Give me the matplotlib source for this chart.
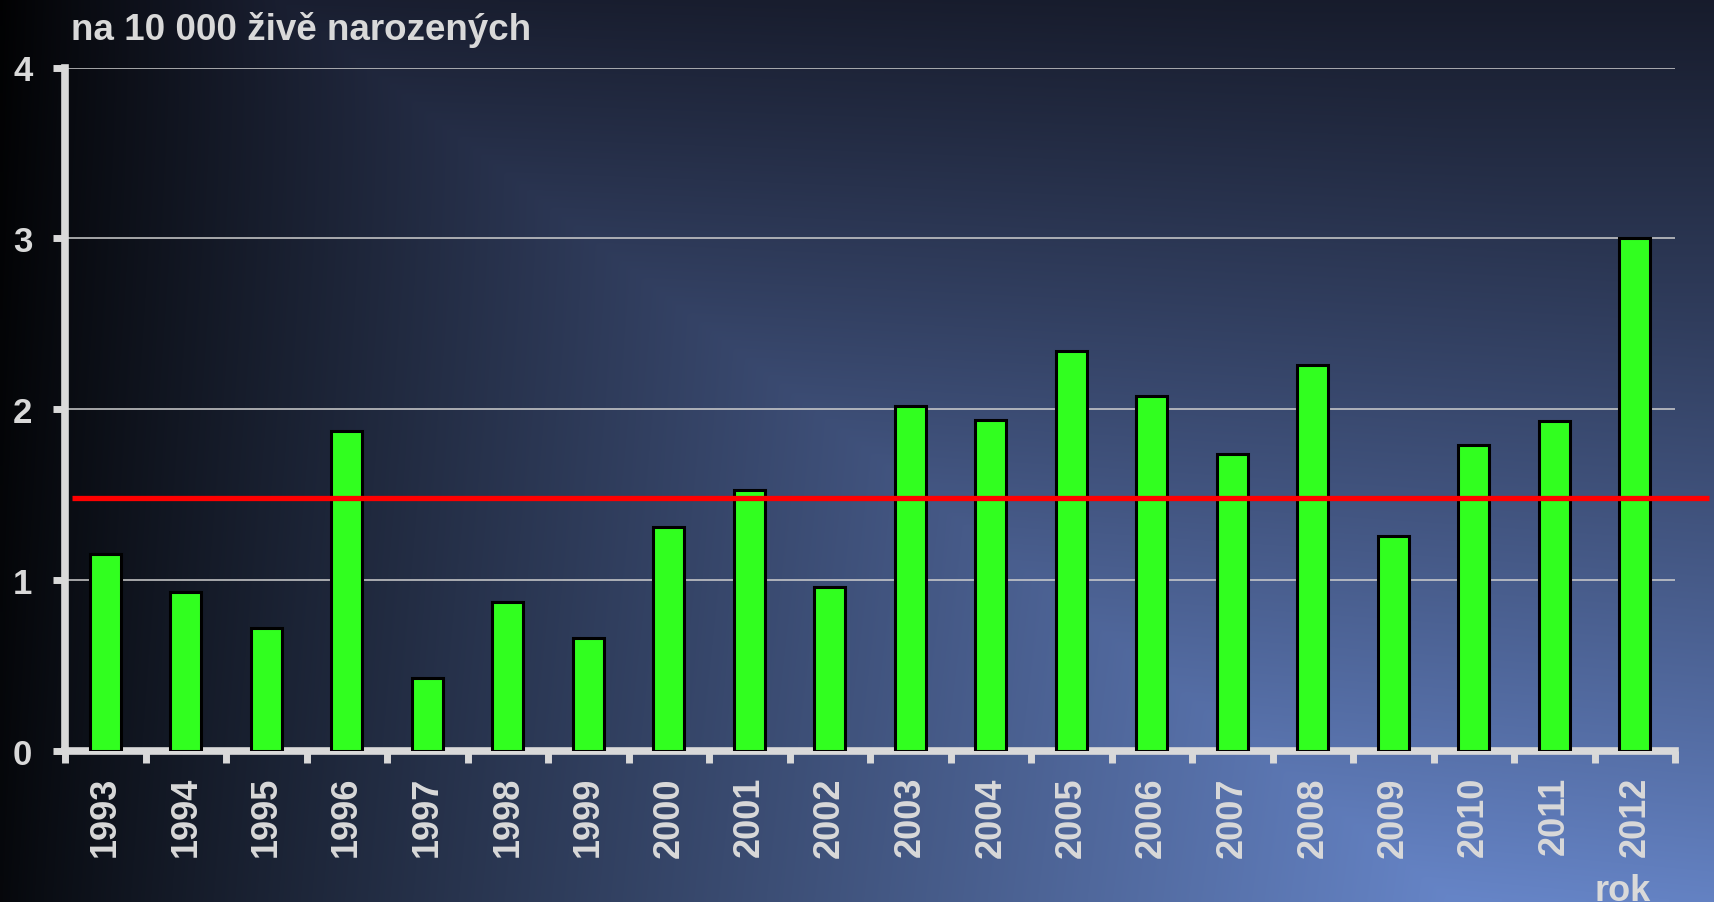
import numpy as np
import matplotlib
matplotlib.use('Agg')
import matplotlib.pyplot as plt

# data
years = ['1993', '1994', '1995', '1996', '1997', '1998', '1999', '2000', '2001', '2002',
         '2003', '2004', '2005', '2006', '2007', '2008', '2009', '2010', '2011', '2012']
values = [1.15, 0.93, 0.72, 1.87, 0.43, 0.87, 0.66, 1.31, 1.53, 0.96,
          2.02, 1.94, 2.34, 2.08, 1.74, 2.26, 1.26, 1.79, 1.93, 3.00]
average = 1.48
y_ticks = [0, 1, 2, 3, 4]

plt.rcParams['font.family'] = ['Liberation Sans', 'DejaVu Sans']
plt.rcParams['font.weight'] = 'bold'

W, H = 1715, 903
txt = '#d9d9d9'
fig = plt.figure(figsize=(W / 100, H / 100), dpi=100)

# background gradient (dark on the left, lighter blue toward the bottom)
bg_ax = fig.add_axes([0, 0, 1, 1])
bg_ax.axis('off')
gh, gw = 181, 343
yy, xx = np.mgrid[0:gh, 0:gw]
px = xx / (gw - 1) * W
py = yy / (gh - 1) * H
top = np.array([0.10, 0.12, 0.19])
bottom = np.array([0.40, 0.52, 0.78])
col = top + (bottom - top) * (py / H)[..., None]
xe = 280 + 1.3 * py
ramp = 0.06 + 0.94 * np.clip(px / xe, 0, 1) ** 0.9
fade = 1 - 0.09 * np.clip((px - xe) / 1000, 0, 1)
col = np.clip(col * (ramp * fade)[..., None], 0, 1)
bg_ax.imshow(col, extent=[0, 1, 0, 1], aspect='auto', interpolation='bilinear', origin='upper')
bg_ax.set_xlim(0, 1)
bg_ax.set_ylim(0, 1)

ax = fig.add_axes([65 / W, 1 - 752 / H, (1675 - 65) / W, (752 - 68.5) / H])
ax.set_facecolor('none')
x = np.arange(len(years))
ax.bar(x, values, width=0.39, color='#31ff1f', edgecolor='black', linewidth=2.2, zorder=3)
ax.plot([-0.41, 19.92], [average, average], color='#ff0000', lw=3.8,
        clip_on=False, zorder=4, solid_capstyle='butt')

ax.set_xlim(-0.5, 19.5)
ax.set_ylim(0, 4)
ax.set_yticks(y_ticks)
ax.yaxis.grid(True, color='#cfcfcf', lw=1.1)
ax.set_axisbelow(True)

for s in ['top', 'right']:
    ax.spines[s].set_visible(False)
for s in ['left', 'bottom']:
    ax.spines[s].set_color(txt)
    ax.spines[s].set_linewidth(5.5)

ax.tick_params(axis='y', length=8.5, width=5, color=txt, pad=15,
               labelsize=25, labelcolor=txt)
ax.set_xticks(x)
ax.set_xticklabels(years, rotation=90, fontsize=26, color=txt, fontweight='bold')
ax.tick_params(axis='x', which='major', length=0, pad=18)
ax.set_xticks(np.arange(-0.5, len(years), 1), minor=True)
ax.tick_params(axis='x', which='minor', length=8.5, width=5, color=txt)

fig.text(71 / W, 1 - 40 / H, 'na 10 000 živě narozených', fontsize=26.5, color=txt,
         fontweight='bold', ha='left', va='baseline')
fig.text(1595 / W, 2 / H, 'rok', fontsize=26, color=txt,
         fontweight='bold', ha='left', va='baseline')

fig.savefig('out.png', dpi=100)
